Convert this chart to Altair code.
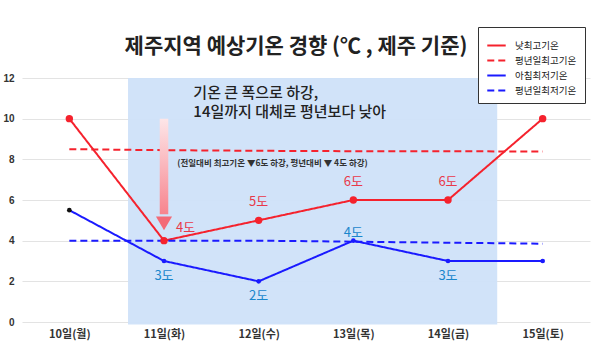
import altair as alt
import pandas as pd

days = ["10일(월)", "11일(화)", "12일(수)", "13일(목)", "14일(금)", "15일(토)"]
high = [10, 4, 5, 6, 6, 10]
high_normal = [8.5, 8.45, 8.42, 8.4, 8.4, 8.38]
low = [5.5, 3, 2, 4, 3, 3]
low_normal = [4.0, 4.0, 4.0, 3.95, 3.9, 3.85]
series_names = ["낮최고기온", "평년일최고기온", "아침최저기온", "평년일최저기온"]
series_colors = ["#f5222d", "#f5222d", "#1a1aff", "#1a1aff"]

title_text = "제주지역 예상기온 경향 (℃ , 제주 기준)"
note_lines = ["기온 큰 폭으로 하강,", "14일까지 대체로 평년보다 낮아"]
small_note = "(전일대비 최고기온 ▼6도 하강, 평년대비 ▼ 4도 하강)"
shade_range = [0.62, 4.52]
arrow_range = [10.0, 5.3]
arrow_head = 4.85
y_ticks = [0, 2, 4, 6, 8, 10, 12]

FONT = "Noto Sans CJK KR"
idx = list(range(len(days)))

rows = []
for name, vals in zip(series_names, [high, high_normal, low, low_normal]):
    for i, v in zip(idx, vals):
        rows.append({"i": i, "v": v, "series": name})
lines_df = pd.DataFrame(rows)

pts = pd.DataFrame({"i": idx, "high": high, "low": low})
pts["lab_h"] = [f"{v}도" for v in high]
pts["lab_l"] = [f"{v:g}도" for v in low]

label_expr = "[" + ",".join(f"'{d}'" for d in days) + "][datum.value]"
x_scale = alt.Scale(domain=[-0.5, 5.5], nice=False, zero=False)
x_enc = alt.X("i:Q", scale=x_scale,
              axis=alt.Axis(values=idx, labelExpr=label_expr, title=None, grid=False,
                            domain=False, ticks=False, labelFontSize=11, labelFontWeight="bold",
                            labelColor="#333", labelFont=FONT, labelPadding=6))
y_scale = alt.Scale(domain=[0, 12], nice=False)
y_enc = alt.Y("v:Q", scale=y_scale,
              axis=alt.Axis(values=y_ticks, title=None, domain=False, ticks=False,
                            gridColor="#e3e3e3", labelFontSize=10, labelFontWeight="bold",
                            labelColor="#333", labelPadding=8))

legend = alt.Legend(orient="none", legendX=456, legendY=-51, title=None,
                    strokeColor="#333", fillColor="white", padding=8,
                    labelFont=FONT, labelFontSize=9.5, labelColor="#222",
                    symbolType="stroke", symbolSize=340, symbolStrokeWidth=2,
                    rowPadding=0, labelOffset=8)

shade = alt.Chart(pd.DataFrame({"x1": [shade_range[0]], "x2": [shade_range[1]],
                                "y1": [12], "y2": [-0.12]})).mark_rect(
    color="#cfe2f9", opacity=0.95).encode(
    x=alt.X("x1:Q", scale=x_scale), x2="x2:Q",
    y=alt.Y("y1:Q", scale=y_scale), y2="y2:Q")

base_lines = alt.Chart(lines_df).mark_line(strokeWidth=2).encode(
    x=x_enc, y=y_enc,
    color=alt.Color("series:N", scale=alt.Scale(domain=series_names, range=series_colors),
                    sort=series_names, legend=legend),
    strokeDash=alt.StrokeDash("series:N", scale=alt.Scale(domain=series_names,
                              range=[[1, 0], [7, 4], [1, 0], [7, 4]]), sort=series_names,
                              legend=legend),
)

arrow_shaft = alt.Chart(pd.DataFrame({"a": [0.955], "b": [1.045], "y1": [arrow_range[0]],
                                      "y2": [arrow_range[1]]})).mark_rect(
    fill=alt.Gradient(gradient="linear", x1=0, x2=0, y1=0, y2=1,
                      stops=[alt.GradientStop(color="#fde6e8", offset=0),
                             alt.GradientStop(color="#f7848e", offset=1)])).encode(
    x=alt.X("a:Q", scale=x_scale), x2="b:Q", y=alt.Y("y1:Q", scale=y_scale), y2="y2:Q")

arrow_tip = alt.Chart(pd.DataFrame({"i": [1], "v": [arrow_head]})).mark_point(
    shape="triangle-down", filled=True, size=260, color="#f36a77", opacity=1).encode(
    x=alt.X("i:Q", scale=x_scale), y=alt.Y("v:Q", scale=y_scale))

hi_pts = alt.Chart(pts).mark_circle(size=55, color="#f5222d", opacity=1).encode(
    x=alt.X("i:Q", scale=x_scale), y=alt.Y("high:Q", scale=y_scale))
lo_pts = alt.Chart(pts).mark_circle(size=22, opacity=1).encode(
    x=alt.X("i:Q", scale=x_scale), y=alt.Y("low:Q", scale=y_scale),
    color=alt.condition("datum.i == 0", alt.value("#111"), alt.value("#1a1aff")))

txt_kw = dict(font=FONT, fontSize=13)
hi_first = alt.Chart(pts).transform_filter("datum.i == 1").mark_text(
    color="#e8394a", align="left", dx=12, dy=-13, **txt_kw).encode(
    x=alt.X("i:Q", scale=x_scale), y=alt.Y("high:Q", scale=y_scale), text="lab_h:N")
hi_rest = alt.Chart(pts).transform_filter("datum.i >= 2 && datum.i <= 4").mark_text(
    color="#e8394a", dy=-18, **txt_kw).encode(
    x=alt.X("i:Q", scale=x_scale), y=alt.Y("high:Q", scale=y_scale), text="lab_h:N")
lo_below = alt.Chart(pts).transform_filter("datum.i >= 1 && datum.i <= 4 && datum.i != 3").mark_text(
    color="#1a86cc", dy=15, **txt_kw).encode(
    x=alt.X("i:Q", scale=x_scale), y=alt.Y("low:Q", scale=y_scale), text="lab_l:N")
lo_above = alt.Chart(pts).transform_filter("datum.i == 3").mark_text(
    color="#1a86cc", dy=-8, **txt_kw).encode(
    x=alt.X("i:Q", scale=x_scale), y=alt.Y("low:Q", scale=y_scale), text="lab_l:N")

note = alt.Chart(pd.DataFrame({"i": [1.31, 1.31], "v": [11.28, 10.33], "t": note_lines})).mark_text(
    align="left", font=FONT, fontSize=15, fontWeight=500, color="#222").encode(
    x=alt.X("i:Q", scale=x_scale), y=alt.Y("v:Q", scale=y_scale), text="t:N")
small = alt.Chart(pd.DataFrame({"i": [1.14], "v": [7.82], "t": [small_note]})).mark_text(
    align="left", font=FONT, fontSize=8.5, color="#333", fontWeight="bold").encode(
    x=alt.X("i:Q", scale=x_scale), y=alt.Y("v:Q", scale=y_scale), text="t:N")

chart = alt.layer(shade, base_lines, arrow_shaft, arrow_tip, hi_pts, lo_pts,
                  hi_first, hi_rest, lo_below, lo_above, note, small).properties(
    width=568, height=244,
    title=alt.TitleParams(title_text, font=FONT, fontSize=21, fontWeight="bold",
                          color="#222", anchor="middle", dx=-10, offset=0, dy=51,
                          baseline="bottom"),
    padding={"left": 22, "top": 78, "right": 10, "bottom": 32},
    autosize=alt.AutoSizeParams(type="none"),
).configure_view(stroke=None)

chart.save("out.html", embed_options={"renderer": "svg", "actions": False})
